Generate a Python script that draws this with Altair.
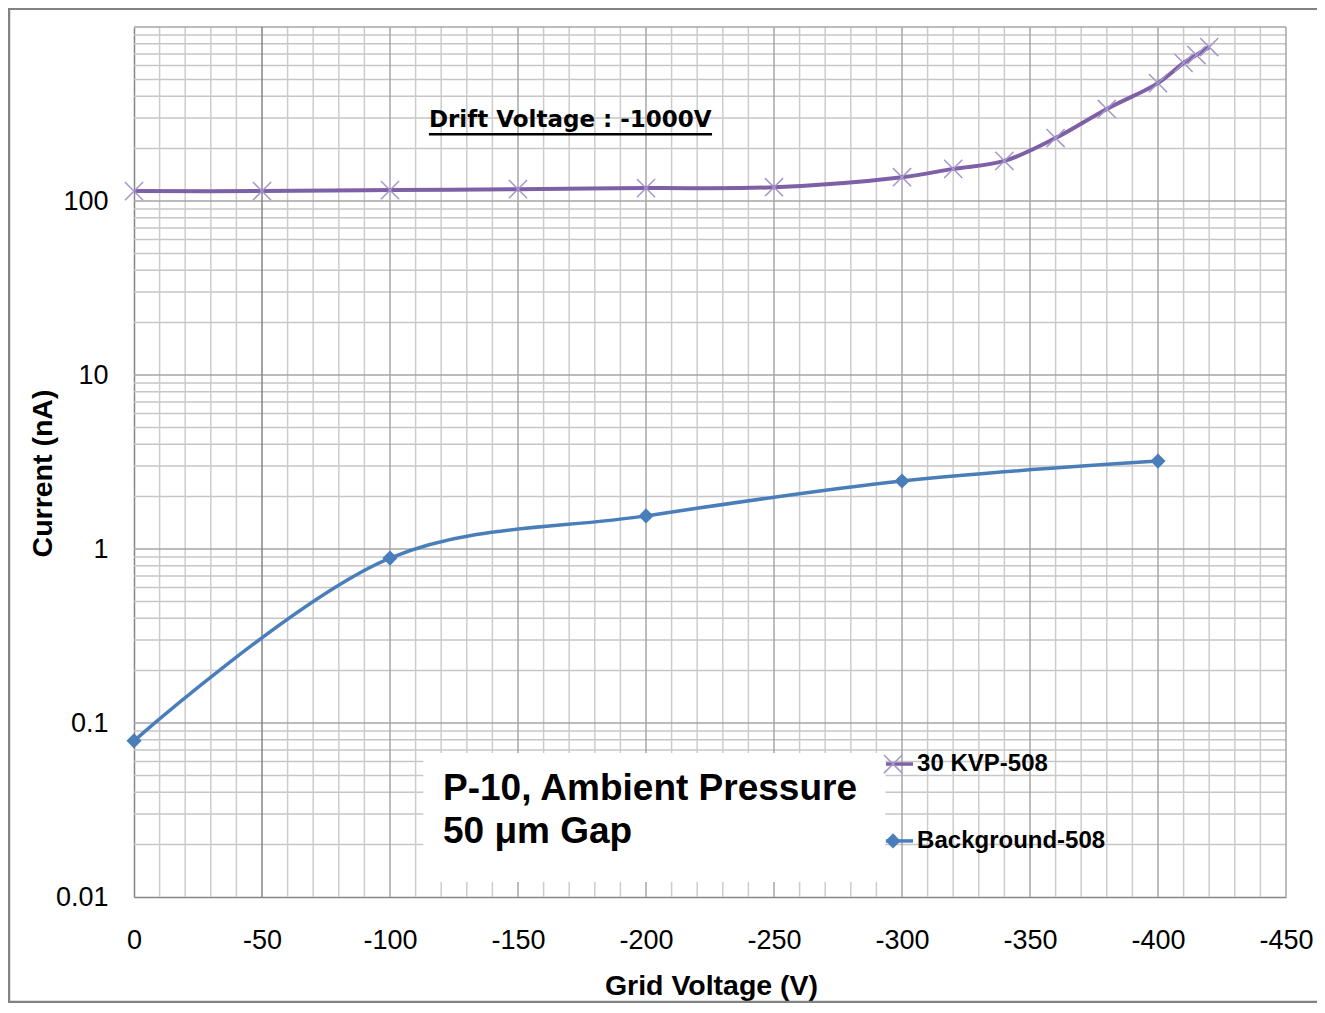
import altair as alt
import pandas as pd

# ---- data ----
kvp_x = [0, -50, -100, -150, -200, -250, -300, -320, -340, -360, -380, -400, -410, -415, -420]
kvp_y = [114, 114, 115.5, 117, 118.6, 120, 137, 153, 170, 230, 338, 476, 621, 690, 767]
bg_x = [0, -100, -200, -300, -400]
bg_y = [0.079, 0.887, 1.55, 2.46, 3.2]
series_names = ["30 KVP-508", "Background-508"]

x_ticks = [0, -50, -100, -150, -200, -250, -300, -350, -400, -450]
y_ticks = [0.01, 0.1, 1, 10, 100]
x_minor = [v for v in range(-10, -450, -10) if v % 50 != 0]
y_major = [0.01, 0.1, 1, 10, 100, 1000]
y_minor = [m * 10.0 ** k for k in range(-2, 3) for m in range(2, 10)]

drift_text = "Drift Voltage : -1000V"
box_lines = ["P-10, Ambient Pressure", "50 \u03bcm Gap"]

PURPLE = "#7d60a6"
PURPLE_MK = "#a596cc"
BLUE = "#4a7ebb"
FONT = "Liberation Sans"

xs = alt.Scale(domain=[-450, 0], reverse=True, nice=False, zero=False)
ys = alt.Scale(type="log", domain=[0.01, 1000], nice=False)

x_axis = alt.Axis(values=x_ticks, labelExpr="'' + datum.value", grid=False, ticks=False,
                  tickSize=0, labelPadding=30, labelFontSize=27, labelFont=FONT,
                  labelFlush=False, labelOverlap=False,
                  labelColor="#000000", domainColor="#868686", domainWidth=1.5,
                  title="Grid Voltage (V)", titleFont=FONT, titleFontSize=28.5,
                  titleFontWeight="bold", titleColor="#000000", titleX=577, titleY=97,
                  titleBaseline="alphabetic", titleAlign="center")
y_axis = alt.Axis(values=y_ticks, labelExpr="'' + datum.value", grid=False, ticks=False,
                  tickSize=0, labelPadding=26, labelFontSize=27, labelFont=FONT,
                  labelFlush=False, labelOverlap=False,
                  labelColor="#000000", domainColor="#868686", domainWidth=1.5,
                  title="Current (nA)", titleFont=FONT, titleFontSize=28.5,
                  titleFontWeight="bold", titleColor="#000000", titleX=-83, titleY=446,
                  titleBaseline="alphabetic", titleAlign="center", titleAngle=270)

X = alt.X("x:Q", scale=xs, axis=x_axis)
Y = alt.Y("y:Q", scale=ys, axis=y_axis)

# ---- gridlines ----
vminor = alt.Chart(pd.DataFrame({"x": x_minor})).mark_rule(color="#cccccc", strokeWidth=1.5).encode(x=X)
vmajor = alt.Chart(pd.DataFrame({"x": [v for v in x_ticks if v not in (0, -50)]})).mark_rule(
    color="#a6a6a6", strokeWidth=1.5).encode(x=X)
vdark = alt.Chart(pd.DataFrame({"x": [-50]})).mark_rule(color="#858585", strokeWidth=1.5).encode(x=X)
hminor = alt.Chart(pd.DataFrame({"y": y_minor})).mark_rule(color="#c6c6c6", strokeWidth=1.5).encode(y=Y)
hmajor = alt.Chart(pd.DataFrame({"y": y_major[1:]})).mark_rule(color="#a6a6a6", strokeWidth=1.5).encode(y=Y)

# ---- text box (white) ----
box_df = pd.DataFrame({"x": [-113], "x2": [-293.5], "y": [0.0672], "y2": [0.0122]})
box = alt.Chart(box_df).mark_rect(color="white").encode(x=X, x2="x2:Q", y=Y, y2="y2:Q")
box_text_df = pd.DataFrame({"x": [-120.7, -120.7], "y": [0.0361, 0.0204], "t": box_lines})
box_text = alt.Chart(box_text_df).mark_text(align="left", baseline="alphabetic", font=FONT,
                                            fontSize=37, fontWeight="bold", color="#000000").encode(
    x=X, y=Y, text="t:N")

# ---- series ----
kvp_df = pd.DataFrame({"x": kvp_x, "y": kvp_y})
bg_df = pd.DataFrame({"x": bg_x, "y": bg_y})
cross = "M-1,-1L1,1M-1,1L1,-1"
kvp_line = alt.Chart(kvp_df).mark_line(color=PURPLE, strokeWidth=4, interpolate="catmull-rom").encode(x=X, y=Y)
kvp_pts = alt.Chart(kvp_df).mark_point(shape=cross, size=330, filled=False, stroke=PURPLE_MK,
                                       strokeWidth=1.5, opacity=1).encode(x=X, y=Y)
bg_line = alt.Chart(bg_df).mark_line(color=BLUE, strokeWidth=3.5, interpolate="catmull-rom").encode(x=X, y=Y)
bg_pts = alt.Chart(bg_df).mark_point(shape="diamond", size=230, filled=True, color=BLUE,
                                     opacity=1).encode(x=X, y=Y)

# ---- drift voltage label ----
drift_df = pd.DataFrame({"x": [-115.2], "y": [265.0], "t": [drift_text]})
drift = alt.Chart(drift_df).mark_text(align="left", baseline="alphabetic", font="DejaVu Sans",
                                      fontSize=23, fontWeight="bold", color="#000000").encode(
    x=X, y=Y, text="t:N")
ul_df = pd.DataFrame({"x": [-115.2], "x2": [-225.8], "y": [242.0]})
underline = alt.Chart(ul_df).mark_rule(color="#000000", strokeWidth=2.5).encode(x=X, x2="x2:Q", y=Y)

# ---- legend ----
leg_y = [0.0581, 0.021]
leg_kvp_line = alt.Chart(pd.DataFrame({"x": [-293.75, -304.3], "y": [leg_y[0]] * 2})).mark_line(
    color=PURPLE, strokeWidth=3.5).encode(x=X, y=Y)
leg_kvp_pt = alt.Chart(pd.DataFrame({"x": [-296.5], "y": [leg_y[0]]})).mark_point(
    shape=cross, size=330, filled=False, stroke=PURPLE_MK, strokeWidth=1.5, opacity=1).encode(x=X, y=Y)
leg_bg_line = alt.Chart(pd.DataFrame({"x": [-293.75, -304.3], "y": [leg_y[1]] * 2})).mark_line(
    color=BLUE, strokeWidth=3.5).encode(x=X, y=Y)
leg_bg_pt = alt.Chart(pd.DataFrame({"x": [-296.5], "y": [leg_y[1]]})).mark_point(
    shape="diamond", size=230, filled=True, color=BLUE, opacity=1).encode(x=X, y=Y)
leg_text = alt.Chart(pd.DataFrame({"x": [-305.9, -305.9], "y": leg_y, "t": series_names})).mark_text(
    align="left", baseline="middle", font=FONT, fontSize=24, fontWeight="bold", color="#000000").encode(
    x=X, y=Y, text="t:N")

# ---- outer frame ----
one = pd.DataFrame({"a": [0]})
frame_l = alt.Chart(one).mark_rule(color="#828282", strokeWidth=2.5).encode(
    x=alt.value(-125), y=alt.value(-19), y2=alt.value(976))
frame_b = alt.Chart(one).mark_rule(color="#828282", strokeWidth=2.5).encode(
    x=alt.value(-126), x2=alt.value(1183), y=alt.value(975))
frame_t = alt.Chart(one).mark_rule(color="#828282", strokeWidth=2).encode(
    x=alt.value(-126), x2=alt.value(1183), y=alt.value(-18))

chart = alt.layer(
    hminor, vminor, hmajor, vmajor, vdark,
    box, box_text,
    kvp_line, kvp_pts, bg_line, bg_pts,
    drift, underline,
    leg_kvp_line, leg_kvp_pt, leg_bg_line, leg_bg_pt, leg_text,
    frame_l, frame_b, frame_t,
).properties(
    width=1152, height=870,
    autosize=alt.AutoSizeParams(type="none"),
    padding={"left": 126, "top": 19, "right": 31, "bottom": 106},
    background="white",
).configure_view(stroke=None)

chart.save("out.html", embed_options={"renderer": "svg", "actions": False})
